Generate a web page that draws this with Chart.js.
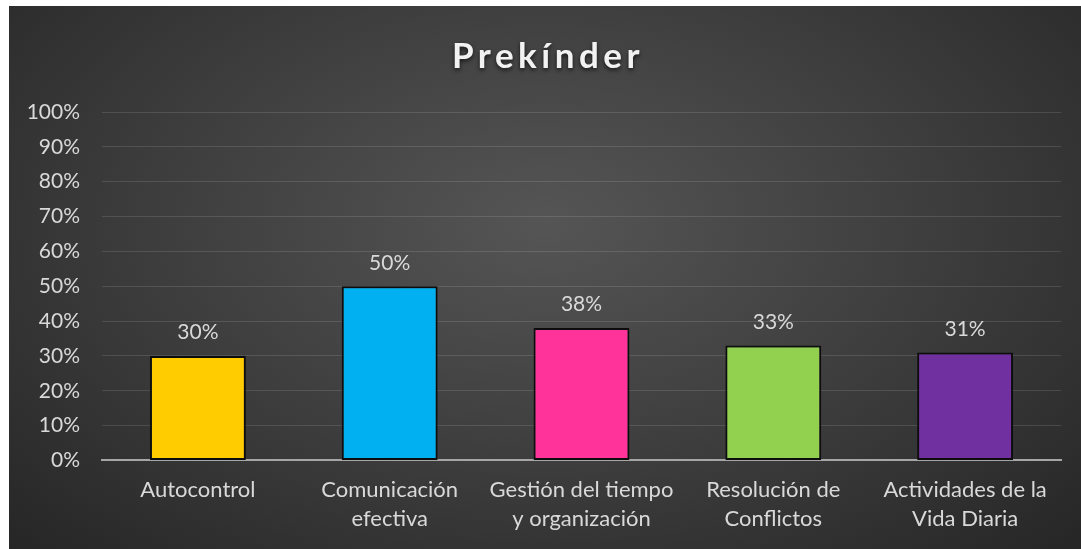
<!DOCTYPE html>
<html>
<head>
<meta charset="utf-8">
<script src="https://cdn.jsdelivr.net/npm/chart.js@4"></script>
<style>
  html, body { margin: 0; padding: 0; background: #ffffff; }
  #wrap {
    position: absolute; left: 9px; top: 6px; width: 1072px; height: 543px;
    background: radial-gradient(ellipse at 50% 40%, #555555 0%, #3e3e3e 50%, #262626 100%);
  }
</style>
</head>
<body>
<div id="wrap"><canvas id="myChart" width="1072" height="543"></canvas></div>
<script>
const categories = [
  ["Autocontrol"],
  ["Comunicación", "efectiva"],
  ["Gestión del tiempo", "y organización"],
  ["Resolución de", "Conflictos"],
  ["Actividades de la", "Vida Diaria"],
];
const values = [30, 50, 38, 33, 31];
const barColors = ["#FFCC00", "#00B0F0", "#FF3399", "#92D050", "#7030A0"];
const titleText = "Prekínder";
const fontName = "Lato, 'Open Sans', sans-serif";

const titlePlugin = {
  id: "titleDraw",
  afterDraw(chart) {
    const ctx = chart.ctx;
    ctx.save();
    ctx.font = "bold 35px " + fontName;
    ctx.letterSpacing = "4.5px";
    ctx.fillStyle = "#f2f2f2";
    ctx.textAlign = "center";
    ctx.textBaseline = "middle";
    ctx.shadowColor = "rgba(0,0,0,0.7)";
    ctx.shadowBlur = 4;
    ctx.shadowOffsetY = 2;
    ctx.fillText(titleText, chart.width / 2 + 3, 51);
    ctx.restore();
  },
};

const valueLabels = {
  id: "valueLabels",
  afterDatasetsDraw(chart) {
    const ctx = chart.ctx;
    ctx.save();
    ctx.font = "21px " + fontName;
    ctx.fillStyle = "#d9d9d9";
    ctx.textAlign = "center";
    ctx.textBaseline = "bottom";
    chart.getDatasetMeta(0).data.forEach((bar, i) => {
      ctx.fillText(values[i] + "%", bar.x, bar.y - 13);
    });
    ctx.restore();
  },
};

const config = {
  type: "bar",
  data: {
    labels: categories,
    datasets: [
      {
        data: values,
        backgroundColor: barColors,
        borderColor: "#0d0d0d",
        borderWidth: 2,
        borderSkipped: false,
        categoryPercentage: 1,
        barPercentage: 0.5,
      },
    ],
  },
  options: {
    responsive: false,
    animation: false,
    layout: { padding: { top: 106, left: 0, right: 20, bottom: 0 } },
    plugins: {
      legend: { display: false },
      tooltip: { enabled: false },
    },
    scales: {
      y: {
        min: 0,
        max: 100,
        afterFit: (scale) => {
          scale.width = 93;
        },
        ticks: {
          stepSize: 10,
          color: "#d9d9d9",
          font: { size: 21, family: fontName },
          padding: 22,
          callback: (v) => v + "%",
        },
        grid: { color: "rgba(255,255,255,0.12)", lineWidth: 1, drawTicks: false },
        border: { display: false },
      },
      x: {
        ticks: {
          color: "#d9d9d9",
          font: { size: 22, family: fontName, lineHeight: 1.33 },
          padding: 15,
          maxRotation: 0,
        },
        grid: { display: false, drawTicks: false },
        border: { color: "#a6a6a6", width: 2 },
      },
    },
  },
  plugins: [titlePlugin, valueLabels],
};

new Chart(document.getElementById("myChart"), config);
</script>
</body>
</html>
